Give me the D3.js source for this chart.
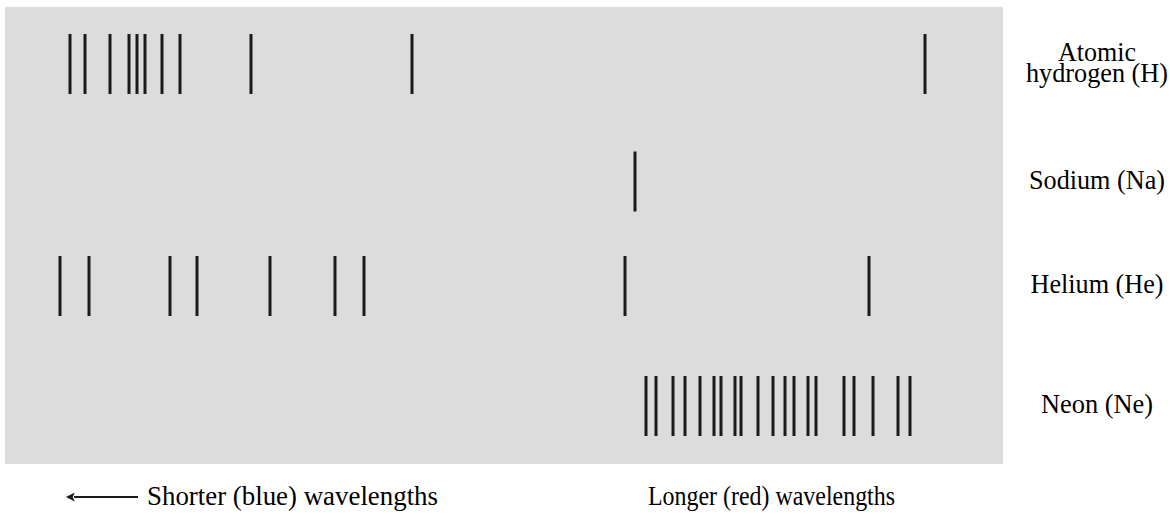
<!DOCTYPE html>
<html><head><meta charset="utf-8">
<script src="https://cdn.jsdelivr.net/npm/d3@7"></script>
<style>body{margin:0;background:#fff}</style>
</head><body><svg id="c" width="1170" height="514"></svg>
<script>
// Elements (rows) and their spectral line positions (relative position along the spectrum, blue -> red)
const elements = ["H", "Na", "He", "Ne"];
const elementLabels = [["Atomic", "hydrogen (H)"], ["Sodium (Na)"], ["Helium (He)"], ["Neon (Ne)"]];
const hydrogenLines = [65, 80, 105, 124, 132, 140, 157, 175, 246, 407, 920];
const sodiumLines = [630];
const heliumLines = [55, 84, 165, 192, 265, 330, 359, 620, 864];
const neonLines = [641, 651, 668, 680, 695, 709, 716, 730, 736, 753, 768, 780, 789, 803, 811, 839, 849, 868, 893, 905];
const axisLabels = ["Shorter (blue) wavelengths", "Longer (red) wavelengths"];

const spectra = [hydrogenLines, sodiumLines, heliumLines, neonLines];

const svg = d3.select("#c");
const panel = {x0: 5, x1: 1003, y0: 7, y1: 464};

const x = d3.scaleLinear().domain([0, 998]).range([panel.x0, panel.x1]);
const y = d3.scaleOrdinal().domain(elements).range([64, 181.5, 286, 406]);
const lineHalf = 30;

svg.append("rect").attr("x", panel.x0).attr("y", panel.y0)
  .attr("width", panel.x1 - panel.x0).attr("height", panel.y1 - panel.y0)
  .attr("fill", "#dcdcdc");

elements.forEach((el, i) => {
  svg.append("g").selectAll("line").data(spectra[i]).join("line")
    .attr("x1", d => x(d)).attr("x2", d => x(d))
    .attr("y1", y(el) - lineHalf).attr("y2", y(el) + lineHalf)
    .attr("stroke", "#1a1a1a").attr("stroke-width", 3);
});

// Row labels: same construction as the bottom captions (start anchor + textLength)
const labelX = 1097;
const labelWidths = {"Atomic": 78, "hydrogen (H)": 142, "Sodium (Na)": 136, "Helium (He)": 133, "Neon (Ne)": 112};
elements.forEach((el, i) => {
  const lines = elementLabels[i];
  const n = lines.length;
  lines.forEach((s, j) => {
    const w = labelWidths[s];
    svg.append("text").attr("font-size", 26).style("font-family", '"Liberation Serif"')
      .attr("transform", `translate(${labelX - w / 2},${y(el) + (j - (n - 1) / 2) * 21 + 7}) scale(1,1.08)`)
      .attr("textLength", w).attr("lengthAdjust", "spacingAndGlyphs")
      .text(s);
  });
});

// Bottom labels
const arrowY = 497;
svg.append("defs").append("marker").attr("id", "ah").attr("viewBox", "0 0 10 10")
  .attr("refX", 1).attr("refY", 5).attr("markerWidth", 12).attr("markerHeight", 9)
  .attr("markerUnits", "userSpaceOnUse").attr("orient", "auto")
  .append("path").attr("d", "M0,0 L10,5 L0,10 L2.5,5 z").attr("fill", "#1a1a1a");
svg.append("line").attr("x1", 138).attr("x2", 74).attr("y1", arrowY).attr("y2", arrowY)
  .attr("stroke", "#1a1a1a").attr("stroke-width", 2.2).attr("marker-end", "url(#ah)");

svg.append("text").attr("font-size", 26).style("font-family", '"Liberation Serif"')
  .attr("transform", `translate(147,${arrowY + 8}) scale(1,1.08)`)
  .attr("textLength", 291).attr("lengthAdjust", "spacingAndGlyphs")
  .text(axisLabels[0]);
svg.append("text").attr("font-size", 26).style("font-family", '"Liberation Serif"')
  .attr("transform", `translate(648,${arrowY + 8}) scale(1,1.08)`)
  .attr("textLength", 247).attr("lengthAdjust", "spacingAndGlyphs")
  .text(axisLabels[1]);
</script></body></html>
